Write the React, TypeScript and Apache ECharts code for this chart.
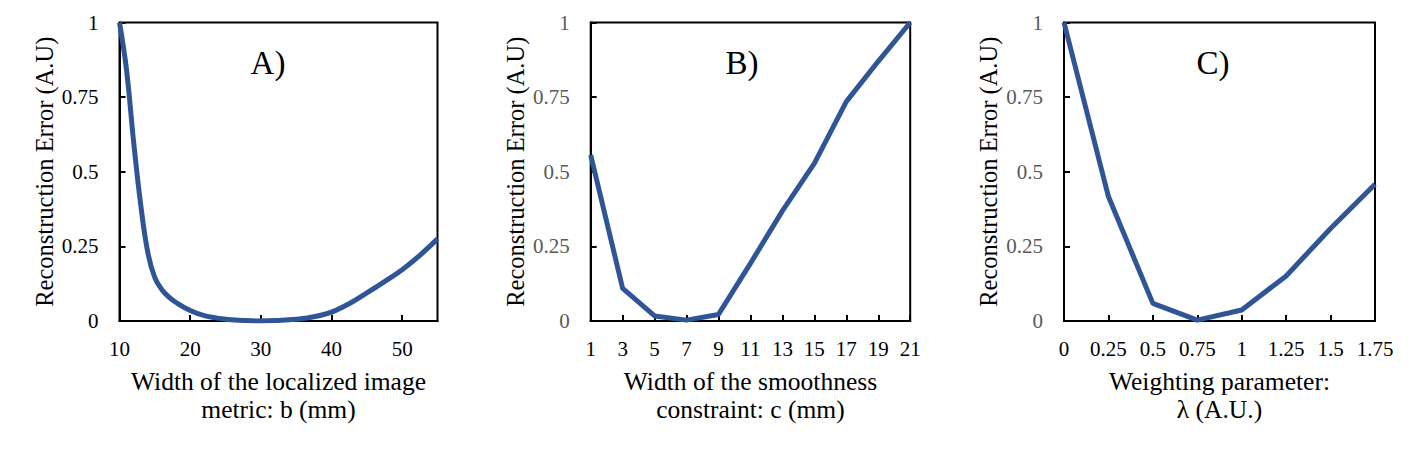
import React, { useEffect, useRef } from "react";
import * as echarts from "echarts";

// Panel A: width of the localized image metric b (mm)
const bWidth = [10, 11, 12, 13, 14, 15, 16, 17, 18, 20, 22, 25, 27.5, 30, 32.5, 35, 37.5, 40, 42.5, 45, 47.5, 50, 52.5, 55];
const errA = [1.0, 0.84, 0.6, 0.39, 0.23, 0.145, 0.105, 0.08, 0.062, 0.035, 0.018, 0.006, 0.002, 0.0, 0.002, 0.006, 0.014, 0.03, 0.058, 0.094, 0.132, 0.172, 0.22, 0.275];

// Panel B: width of the smoothness constraint c (mm)
const cWidth = ["1", "3", "5", "7", "9", "11", "13", "15", "17", "19", "21"];
const errB = [0.556, 0.109, 0.017, 0.003, 0.022, 0.193, 0.369, 0.528, 0.735, 0.87, 1.0];

// Panel C: weighting parameter lambda
const lambda = [0, 0.25, 0.5, 0.75, 1, 1.25, 1.5, 1.75];
const errC = [1.0, 0.417, 0.059, 0.003, 0.037, 0.151, 0.31, 0.458];

const panelLabels = ["A)", "B)", "C)"];
const xTitles = [
  "Width of the localized image\nmetric: b (mm)",
  "Width of the smoothness\nconstraint: c (mm)",
  "Weighting parameter:\nλ (A.U.)",
];
const yTitle = "Reconstruction Error (A.U)";

const FONT = "Liberation Serif";
const LINE = "#2F5597";

export default function App() {
  const ref = useRef<HTMLDivElement>(null);
  useEffect(() => {
    document.body.style.margin = "0";
    const chart = echarts.init(ref.current!, null, { renderer: "svg" });
    const grids = [
      { left: 119.5, top: 22.5, width: 318, height: 298.5 },
      { left: 590.7, top: 22.5, width: 319.5, height: 298.5 },
      { left: 1064, top: 22.5, width: 311, height: 298.5 },
    ].map((g) => ({ ...g, show: true, borderColor: "#000", borderWidth: 2, containLabel: false }));

    const yLabelColors = ["#000", "#595959", "#595959"];
    const yAxes = [0, 1, 2].map((i) => ({
      type: "value",
      gridIndex: i,
      min: 0,
      max: 1,
      interval: 0.25,
      splitLine: { show: false },
      axisLine: { show: true, lineStyle: { color: "#000", width: 2 } },
      axisTick: { show: true, inside: true, length: 6, lineStyle: { color: "#000", width: 2 } },
      axisLabel: { color: yLabelColors[i], fontFamily: FONT, fontSize: 21, margin: 21 },
      name: yTitle,
      nameLocation: "middle",
      nameGap: 63,
      nameTextStyle: { fontFamily: FONT, fontSize: 24.5, color: "#000" },
    }));

    const xCommon = {
      splitLine: { show: false },
      axisLine: { show: true, lineStyle: { color: "#000", width: 2 } },
      axisTick: { show: true, inside: true, length: 6, lineStyle: { color: "#000", width: 2 } },
      nameLocation: "middle",
      nameGap: 46,
      nameTextStyle: { fontFamily: FONT, fontSize: 25.5, color: "#000", lineHeight: 28 },
    };
    const xLabel = { color: "#000", fontFamily: FONT, fontSize: 21, margin: 17 };
    const xAxes = [
      {
        ...xCommon,
        type: "value",
        gridIndex: 0,
        min: 10,
        max: 55,
        interval: 10,
        axisLabel: { ...xLabel, showMaxLabel: false },
        name: xTitles[0],
      },
      {
        ...xCommon,
        type: "category",
        gridIndex: 1,
        boundaryGap: false,
        data: cWidth,
        axisTick: { ...xCommon.axisTick, alignWithLabel: true },
        axisLabel: { ...xLabel, interval: 0 },
        name: xTitles[1],
      },
      {
        ...xCommon,
        type: "value",
        gridIndex: 2,
        min: 0,
        max: 1.75,
        interval: 0.25,
        axisLabel: xLabel,
        name: xTitles[2],
      },
    ];

    const lineStyle = { color: LINE, width: 5 };
    const series = [
      {
        type: "line",
        xAxisIndex: 0,
        yAxisIndex: 0,
        data: bWidth.map((b, i) => [b, errA[i]]),
        smooth: 0.4,
        showSymbol: false,
        lineStyle,
        itemStyle: { color: LINE },
      },
      {
        type: "line",
        xAxisIndex: 1,
        yAxisIndex: 1,
        data: errB,
        showSymbol: false,
        lineStyle,
        itemStyle: { color: LINE },
      },
      {
        type: "line",
        xAxisIndex: 2,
        yAxisIndex: 2,
        data: lambda.map((l, i) => [l, errC[i]]),
        showSymbol: false,
        lineStyle,
        itemStyle: { color: LINE },
      },
    ];

    const labelPos = [268, 742, 1213];
    const graphic = panelLabels.map((t, i) => ({
      type: "text",
      x: labelPos[i],
      y: 63,
      style: {
        text: t,
        fontFamily: FONT,
        fontSize: 33,
        fill: "#000",
        textAlign: "center",
        textVerticalAlign: "middle",
      },
    }));

    chart.setOption({
      animation: false,
      backgroundColor: "#fff",
      grid: grids,
      xAxis: xAxes,
      yAxis: yAxes,
      series,
      graphic,
    });
    return () => chart.dispose();
  }, []);
  return <div ref={ref} style={{ width: 1417, height: 450 }} />;
}
